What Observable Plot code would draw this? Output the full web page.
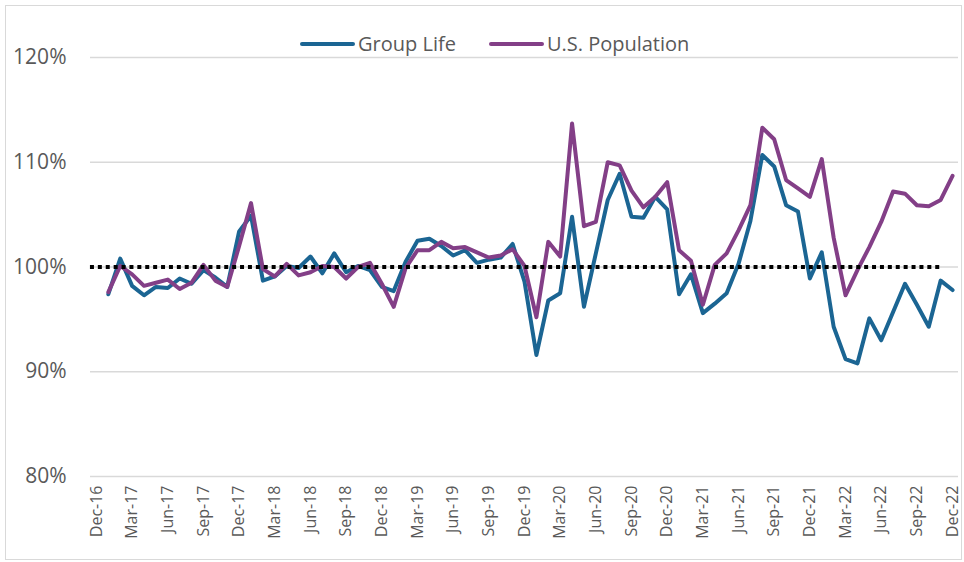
<!DOCTYPE html>
<html>
<head>
<meta charset="utf-8">
<script src="https://cdn.jsdelivr.net/npm/d3@7"></script>
<script src="https://cdn.jsdelivr.net/npm/@observablehq/plot@0.6"></script>
<style>
  html, body { margin: 0; padding: 0; background: #fff; }
  #wrap { position: relative; width: 964px; height: 562px; font-family: "Open Sans", sans-serif; }
  #frame { position: absolute; left: 5px; top: 5px; width: 957px; height: 555px; border: 1px solid #d9d9d9; box-sizing: border-box; pointer-events: none; }
  #legend { position: absolute; left: 300px; top: 30px; display: flex; align-items: center; font-size: 20px; color: #595959; line-height: 28px; white-space: nowrap; }
  #legend .item { display: flex; align-items: center; }
  #legend .sw { display: inline-block; width: 55px; height: 4px; border-radius: 2px; margin-right: 3px; }
  #chart { position: absolute; left: 0; top: 0; }
</style>
</head>
<body>
<div id="wrap">
  <div id="chart"></div>
  <div id="legend"></div>
  <div id="frame"></div>
</div>
<script>
// Categories (x axis): Dec-16 .. Dec-22
const months = [
  "Dec-16","Jan-17","Feb-17","Mar-17","Apr-17","May-17","Jun-17","Jul-17","Aug-17","Sep-17","Oct-17","Nov-17",
  "Dec-17","Jan-18","Feb-18","Mar-18","Apr-18","May-18","Jun-18","Jul-18","Aug-18","Sep-18","Oct-18","Nov-18",
  "Dec-18","Jan-19","Feb-19","Mar-19","Apr-19","May-19","Jun-19","Jul-19","Aug-19","Sep-19","Oct-19","Nov-19",
  "Dec-19","Jan-20","Feb-20","Mar-20","Apr-20","May-20","Jun-20","Jul-20","Aug-20","Sep-20","Oct-20","Nov-20",
  "Dec-20","Jan-21","Feb-21","Mar-21","Apr-21","May-21","Jun-21","Jul-21","Aug-21","Sep-21","Oct-21","Nov-21",
  "Dec-21","Jan-22","Feb-22","Mar-22","Apr-22","May-22","Jun-22","Jul-22","Aug-22","Sep-22","Oct-22","Nov-22",
  "Dec-22"
];
// Tick labels shown on the x axis
const xTickLabels = ["Dec-16","Mar-17","Jun-17","Sep-17","Dec-17","Mar-18","Jun-18","Sep-18","Dec-18",
  "Mar-19","Jun-19","Sep-19","Dec-19","Mar-20","Jun-20","Sep-20","Dec-20","Mar-21","Jun-21","Sep-21",
  "Dec-21","Mar-22","Jun-22","Sep-22","Dec-22"];
// Tick values on the y axis (percent)
const yTicks = [80, 90, 100, 110, 120];

// Series values (percent), Jan-17 .. Dec-22
const seriesMonths = months.slice(1);
const groupLife = [
  97.4,100.8,98.2,97.3,98.1,98.0,98.9,98.4,99.7,99.0,98.1,103.4,
  104.9,98.7,99.1,100.1,99.9,101.0,99.4,101.3,99.5,100.1,99.7,98.1,
  97.7,100.5,102.5,102.7,102.0,101.1,101.6,100.4,100.7,100.9,102.2,98.6,
  91.6,96.8,97.5,104.8,96.2,101.3,106.4,108.9,104.8,104.7,106.7,105.5,
  97.4,99.3,95.6,96.5,97.5,100.3,104.4,110.7,109.6,105.9,105.3,98.9,
  101.4,94.3,91.2,90.8,95.1,93.0,95.7,98.4,96.4,94.3,98.7,97.8
];
const usPopulation = [
  97.6,100.1,99.3,98.2,98.5,98.8,97.9,98.5,100.2,98.7,98.1,102.0,
  106.1,99.8,99.1,100.3,99.2,99.5,100.1,100.0,98.9,100.0,100.4,98.4,
  96.2,99.9,101.6,101.6,102.4,101.8,101.9,101.4,100.9,101.1,101.7,100.1,
  95.2,102.4,101.0,113.7,103.9,104.3,110.0,109.7,107.3,105.7,106.7,108.1,
  101.6,100.6,96.4,100.2,101.3,103.5,105.9,113.3,112.2,108.3,107.5,106.7,
  110.3,102.8,97.3,99.7,101.9,104.3,107.2,107.0,105.9,105.8,106.4,108.7
];
// Reference line at 100%
const refValue = 100;
const refStart = "Dec-16";
const refEnd = "Nov-22";

const seriesNames = ["Group Life", "U.S. Population"];
const seriesColors = ["#1b6593", "#833f87"];

const rows = [
  ...seriesMonths.map((m, i) => ({month: m, series: seriesNames[0], value: groupLife[i]})),
  ...seriesMonths.map((m, i) => ({month: m, series: seriesNames[1], value: usPopulation[i]}))
];

const chart = Plot.plot({
  width: 964,
  height: 562,
  marginLeft: 90,
  marginRight: 6,
  marginTop: 57,
  marginBottom: 86,
  style: {fontFamily: "Open Sans, sans-serif", color: "#595959", background: "transparent", overflow: "visible"},
  x: {type: "point", domain: months, padding: 0.5},
  y: {domain: [80, 120]},
  color: {domain: seriesNames, range: seriesColors},
  marks: [
    Plot.ruleY(yTicks, {stroke: "#d9d9d9", strokeWidth: 1.3}),
    Plot.axisY({ticks: yTicks, tickSize: 0, tickPadding: 24, tickFormat: d => d + "%", fontSize: 21, label: null}),
    Plot.axisX({ticks: xTickLabels, tickSize: 0, tickRotate: -90, tickPadding: 9, fontSize: 16, label: null}),
    Plot.line(rows, {x: "month", y: "value", z: "series", stroke: "series", strokeWidth: 4, strokeLinejoin: "round", strokeLinecap: "round"}),
    Plot.ruleY([refValue], {x1: () => refStart, x2: () => refEnd, insetLeft: -6, stroke: "#000", strokeWidth: 4, strokeDasharray: "4 3.9"})
  ]
});
document.getElementById("chart").appendChild(chart);

// Legend
const legend = document.getElementById("legend");
seriesNames.forEach((name, i) => {
  const item = document.createElement("div");
  item.className = "item";
  if (i > 0) item.style.marginLeft = "33px";
  const sw = document.createElement("span");
  sw.className = "sw";
  sw.style.background = seriesColors[i];
  const label = document.createElement("span");
  label.textContent = name;
  item.appendChild(sw);
  item.appendChild(label);
  legend.appendChild(item);
});
</script>
</body>
</html>
